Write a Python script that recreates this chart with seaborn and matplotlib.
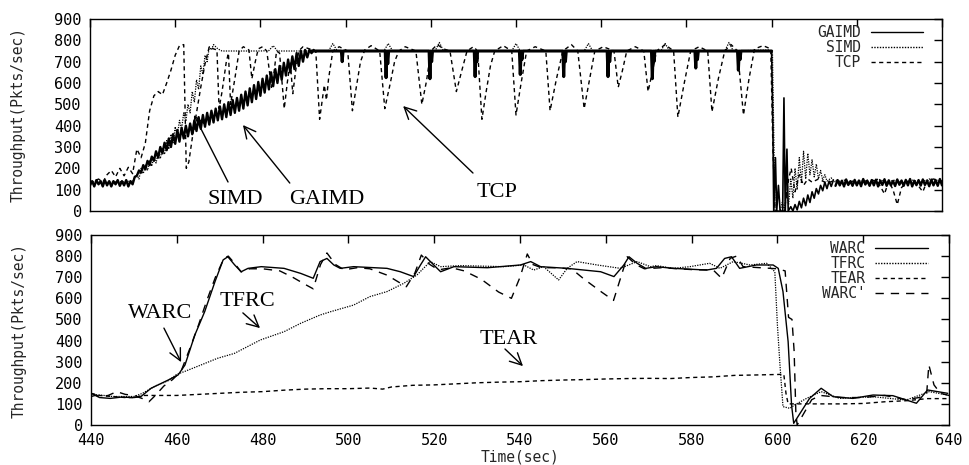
import numpy as np
import pandas as pd
import matplotlib
matplotlib.use("Agg")
import matplotlib.pyplot as plt
import seaborn as sns

# ---- top panel: GAIMD / SIMD / TCP (time in sec, throughput in pkts/sec) ----
# GAIMD oscillating band, one low/high pair per second from 440 to 492
gaimd_lo = [120, 115, 125, 115, 120, 115, 125, 118, 120, 115,
            125, 165, 180, 195, 215, 235, 250, 270, 285, 300,
            315, 325, 340, 350, 360, 375, 385, 395, 405, 415,
            425, 430, 440, 450, 460, 470, 480, 495, 510, 525,
            540, 555, 570, 585, 600, 615, 635, 650, 665, 680,
            700, 720, 740]
gaimd_hi = [140, 145, 140, 145, 140, 140, 145, 140, 145, 140,
            160, 190, 215, 235, 255, 280, 300, 320, 340, 360,
            380, 390, 400, 410, 425, 440, 450, 460, 470, 480,
            490, 500, 510, 520, 530, 545, 560, 575, 590, 605,
            620, 635, 650, 665, 680, 695, 710, 725, 740, 750,
            755, 755, 755]
gaimd_flat = [(492, 750), (499, 750), (499.2, 700), (499.4, 750),
              (509.3, 750), (509.5, 625), (509.7, 750), (509.9, 690), (510.1, 750),
              (519.6, 750), (519.8, 620), (520, 750), (520.2, 700), (520.4, 750),
              (530.2, 750), (530.4, 630), (530.6, 750), (530.8, 700), (531, 750),
              (540.8, 750), (541, 640), (541.2, 750), (541.4, 710), (541.6, 750),
              (551, 750), (551.2, 630), (551.4, 750), (551.6, 700), (551.8, 750),
              (561.4, 750), (561.6, 630), (561.8, 750), (562, 700), (562.2, 750),
              (571.8, 750), (572, 620), (572.2, 750), (572.4, 700), (572.6, 750),
              (582, 750), (582.2, 670), (582.4, 750), (582.6, 710), (582.8, 750),
              (592, 750), (592.2, 660), (592.4, 750), (592.6, 710), (592.8, 750),
              (600, 750)]
gaimd_drop = [(600, 750), (600.3, 400), (600.5, 0), (600.9, 250), (601.2, 0),
              (601.6, 120), (602, 0), (602.6, 0), (602.9, 530), (603.2, 0),
              (603.6, 290), (603.9, 0), (604.5, 20), (605, 0), (605.5, 30),
              (606, 5), (606.5, 45), (607, 15), (607.5, 60), (608, 25),
              (608.5, 75), (609, 40), (609.5, 90), (610, 60), (610.5, 105),
              (611, 80), (611.5, 120), (612, 95), (612.5, 135), (613, 105),
              (613.5, 140), (614, 115), (614.5, 145)]
# GAIMD band after recovery, one low/high pair per second from 615 to 640
gaimd_tail_lo = [118, 120, 115, 122, 118, 120, 116, 124, 118, 120, 115, 122, 118,
                 120, 117, 123, 118, 120, 115, 121, 119, 122, 116, 120, 118, 120]
gaimd_tail_hi = [145, 142, 148, 140, 146, 143, 150, 141, 145, 147, 142, 149, 144,
                 141, 148, 143, 146, 150, 142, 145, 148, 141, 147, 144, 150, 143]

simd = [(440, 130), (445, 135), (450, 140), (451, 170), (451.5, 150), (452, 200),
        (452.5, 175), (453, 215), (453.5, 190), (454, 235), (454.5, 210), (455, 255),
        (455.5, 225), (456, 270), (456.5, 245), (457, 295), (457.5, 265), (458, 330),
        (458.5, 290), (459, 360), (459.5, 320), (460, 395), (460.5, 350), (461, 425),
        (461.5, 385), (462, 460), (462.5, 420), (463, 500), (463.5, 460), (464, 560),
        (464.5, 510), (465, 615), (465.5, 570), (466, 680), (466.5, 640), (467, 730),
        (467.5, 700), (468, 770), (468.5, 755), (469, 780), (470, 760), (471, 750),
        (480, 750), (482, 752), (483, 775), (484, 750), (496, 750), (497, 785),
        (498, 752), (499, 750), (509, 750), (510, 785), (511, 752), (521, 750),
        (522, 790), (523, 750), (539, 750), (540, 785), (541, 750), (556, 750),
        (557, 785), (558, 750), (574, 750), (575, 785), (576, 752), (589, 750),
        (590, 790), (591, 750), (599.5, 755), (600.2, 740), (600.8, 0), (602, 0),
        (602.5, 40), (603, 10), (603.5, 90), (604, 30), (604.5, 150), (605, 60),
        (605.5, 200), (606, 100), (606.5, 250), (607, 130), (607.5, 280), (608, 150),
        (608.5, 270), (609, 170), (609.5, 240), (610, 160), (610.5, 220), (611, 150),
        (611.5, 190), (612, 145), (612.5, 170), (613, 140), (614, 155), (615, 135),
        (617, 145), (619, 130), (621, 140), (623, 130), (625, 150), (627, 135),
        (629, 145), (631, 130), (633, 145), (635, 135), (637, 150), (640, 140)]

tcp = [(440, 130), (441, 140), (442, 150), (443, 135), (444, 170), (445, 190),
       (446, 160), (447, 200), (448, 165), (449, 205), (450, 175), (451, 290),
       (452, 250), (453, 320), (454, 470), (455, 540), (456, 560), (457, 545),
       (458, 600), (459, 660), (460, 730), (461, 775), (462, 780), (462.6, 200),
       (463.2, 230), (464, 340), (465, 460), (466, 580), (467, 690), (468, 770),
       (469, 760), (469.8, 755), (470.3, 480), (471, 560), (472, 700), (472.5, 740),
       (473, 500), (474, 620), (475, 750), (476, 770), (477.3, 755), (478, 620),
       (478.8, 700), (479.5, 760), (480.5, 770), (481.5, 750), (482.6, 580),
       (483.2, 650), (483.8, 750), (484.5, 740), (485.6, 480), (486.3, 600),
       (487, 700), (487.6, 550), (488.3, 660), (489, 750), (490, 770), (491.5, 760),
       (493, 750), (493.9, 430), (495, 590), (495.5, 520), (496, 620), (497, 750),
       (498.5, 770), (500.5, 750), (501.6, 470), (502.5, 580), (503.5, 700),
       (504.5, 755), (506, 775), (508, 750), (509.2, 480), (510.5, 600), (511.5, 700),
       (512.5, 750), (514, 770), (516.5, 750), (517.9, 500), (519, 610), (520, 750),
       (521.5, 780), (523, 760), (524.5, 750), (526, 560), (527.3, 660), (528.5, 750),
       (530, 770), (531, 750), (532, 430), (533, 560), (534, 680), (535, 750),
       (537, 775), (539, 750), (540, 450), (541.2, 600), (542.5, 750), (544.5, 770),
       (547, 750), (548, 470), (549.5, 620), (551, 750), (553, 780), (554.5, 750),
       (556, 480), (557.3, 620), (558.5, 750), (560.5, 770), (563, 750), (564, 580),
       (565, 660), (566, 750), (568, 770), (570, 750), (571, 560), (572, 650),
       (573, 750), (575, 780), (577, 750), (578, 440), (579.5, 600), (581, 750),
       (583, 770), (585, 750), (586, 465), (587.5, 620), (589, 750), (590.5, 780),
       (592, 750), (593.4, 450), (594.7, 620), (596, 760), (598, 775), (599.8, 760),
       (600.3, 300), (600.8, 0), (603, 0), (604, 150), (604.6, 200), (605.5, 90),
       (606.5, 170), (607.5, 120), (608.5, 150), (609.5, 135), (611, 150), (613, 130),
       (615, 145), (617, 125), (619, 140), (621, 130), (623, 150), (625, 135),
       (626.5, 80), (627.5, 140), (628.5, 100), (629.5, 30), (630.5, 110), (632, 140),
       (634, 130), (635.5, 90), (636.5, 140), (638, 150), (640, 140)]

# ---- bottom panel: WARC / TFRC / TEAR / WARC' ----
warc = [(440, 135), (441, 140), (442, 130), (444.5, 126), (447, 132), (450, 130),
        (451.6, 134), (454, 174), (458, 213), (460.3, 237), (461.9, 284), (464.2, 426),
        (466.5, 537), (468.9, 679), (470.8, 782), (471.9, 797), (473.5, 758),
        (475, 726), (476.6, 742), (479.7, 750), (485, 742), (488.9, 718), (491.8, 695),
        (493.4, 774), (495, 789), (496.6, 758), (498.1, 742), (501.2, 750), (509, 742),
        (512.1, 726), (515.2, 703), (516.8, 758), (518, 797), (519.9, 758),
        (521.5, 726), (524.6, 750), (532.4, 745), (540.1, 758), (542.5, 774),
        (544.8, 750), (551, 742), (558.8, 726), (561.9, 703), (564.2, 758),
        (565.4, 797), (567.3, 766), (569.3, 742), (571.8, 750), (575.7, 742),
        (583.5, 734), (585.8, 742), (587.7, 789), (589.3, 797), (591.2, 742),
        (595.1, 758), (599, 758), (600.2, 742), (601.3, 632), (602.5, 395),
        (603.3, 95), (603.8, 8), (607.5, 126), (610.2, 174), (613, 134), (617.6, 126),
        (622.3, 142), (626.9, 139), (632.4, 103), (635, 166), (639.7, 150)]

tfrc = [(440, 145), (443, 140), (445, 135), (450, 135), (452, 150), (455, 185),
        (458, 210), (460, 240), (462, 255), (465.6, 284), (469.5, 316), (473.4, 339),
        (479.5, 403), (485, 442), (488.9, 482), (493.4, 521), (495.9, 537),
        (501.2, 568), (505, 608), (509, 632), (512.9, 671), (516, 711), (517.5, 742),
        (519.1, 774), (521.5, 750), (526.1, 755), (536.2, 750), (540.9, 758),
        (543.2, 734), (545.5, 750), (549, 687), (551, 742), (553.3, 774), (558, 758),
        (563.4, 742), (567.3, 774), (570.4, 750), (571.8, 755), (575.7, 742),
        (579.6, 750), (584.2, 766), (586.6, 742), (589.7, 774), (593.6, 758),
        (597.5, 766), (599.4, 726), (600, 474), (600.6, 284), (601.3, 87),
        (602.9, 79), (604, 95), (606.8, 126), (610.2, 158), (614.5, 126),
        (622.3, 134), (630, 118), (635.4, 158), (639.7, 142)]

tear = [(440, 150), (442, 140), (445, 135), (448, 130), (450, 130), (452, 140),
        (455, 140), (460, 140), (465, 145), (470, 150), (475, 155), (480, 158),
        (485, 165), (490, 170), (495, 172), (500, 172), (505, 175), (508, 170),
        (510, 180), (515, 188), (520, 190), (525, 195), (530, 200), (535, 203),
        (540, 205), (545, 210), (550, 213), (555, 215), (560, 218), (565, 220),
        (570, 221), (575, 220), (580, 225), (585, 228), (590, 235), (595, 237),
        (601.5, 240), (602, 150), (602.5, 100), (605, 100), (610, 100), (615, 100),
        (620, 102), (625, 110), (630, 115), (635, 125), (640, 125)]

warc_prime = [(440, 150), (442, 135), (444, 140), (446, 158), (448, 145), (450, 140),
              (452, 125), (453.5, 110), (455, 140), (457, 185), (459, 215), (461, 255),
              (463, 360), (465, 470), (467, 590), (469, 700), (471, 790), (472, 800),
              (473.5, 765), (475, 725), (477, 740), (480, 740), (484, 730), (487, 700),
              (490, 665), (491.8, 645), (493.5, 760), (495, 815), (497, 760), (499, 735),
              (502, 745), (505, 740), (509, 710), (513.5, 655), (515.5, 720), (517, 805),
              (519, 760), (521, 735), (524, 745), (527, 730), (531, 690), (535, 630),
              (538, 600), (540, 700), (541.7, 810), (543, 760), (545, 745), (548, 745),
              (552, 740), (555, 690), (559, 630), (561.8, 590), (563.5, 700), (565, 797),
              (567, 760), (569, 740), (573, 745), (577, 740), (581, 735), (585, 735),
              (587, 695), (589, 790), (590.5, 800), (592, 750), (596, 745), (600, 740),
              (601.8, 730), (602.6, 510), (603.4, 500), (603.9, 350), (604.3, 60),
              (604.6, 0), (608, 120), (610, 140), (615, 130), (620, 130), (625, 140),
              (630, 120), (633, 130), (634.8, 150), (635.3, 285), (636.5, 190),
              (638, 150), (640, 140)]


def band(start, lo, hi):
    # interleave low/high samples half a second apart -> dense oscillation
    pts = []
    for i, (a, b) in enumerate(zip(lo, hi)):
        pts.append((start + i, a))
        pts.append((start + i + 0.5, b))
    return pts


def frame(pts):
    return pd.DataFrame(pts, columns=["time", "tput"])


def draw(ax, pts, **kw):
    sns.lineplot(data=frame(pts), x="time", y="tput", ax=ax, sort=False,
                 estimator=None, legend=False, color="black", **kw)


sns.set_theme(style="white")
plt.rcParams["font.family"] = ["DejaVu Sans Mono", "DejaVu Sans"]
MONO = "DejaVu Sans Mono"
SERIF = "Liberation Serif"

fig = plt.figure(figsize=(9.7, 4.65), dpi=100)
ax1 = fig.add_axes([90 / 970, 1 - 211 / 465, 852 / 970, 192 / 465])
ax2 = fig.add_axes([91 / 970, 1 - 425 / 465, 858 / 970, 190 / 465])

dotted = (0, (1, 1))
short_dash = (0, (3, 2.5))
long_dash = (0, (6, 5))

# top panel
draw(ax1, tcp, lw=1.0, linestyle=short_dash, label="TCP")
draw(ax1, simd, lw=0.9, linestyle=dotted, label="SIMD")
draw(ax1, band(440, gaimd_lo, gaimd_hi), lw=1.7, label="GAIMD")
draw(ax1, gaimd_flat, lw=2.2)
draw(ax1, gaimd_drop, lw=1.2)
draw(ax1, band(615, gaimd_tail_lo, gaimd_tail_hi), lw=1.7)

# bottom panel
draw(ax2, tear, lw=1.0, linestyle=short_dash, label="TEAR")
draw(ax2, tfrc, lw=0.9, linestyle=dotted, label="TFRC")
draw(ax2, warc_prime, lw=1.0, linestyle=long_dash, label="WARC'")
draw(ax2, warc, lw=1.0, label="WARC")

for ax in (ax1, ax2):
    ax.set_xlim(440, 640)
    ax.set_ylim(0, 900)
    ax.set_xticks(np.arange(440, 641, 20))
    ax.set_yticks(np.arange(0, 901, 100))
    ax.tick_params(direction="in", top=True, right=True, length=6, width=1,
                   labelsize=11, pad=6, colors="black")
    for lab in ax.get_xticklabels() + ax.get_yticklabels():
        lab.set_fontfamily(MONO)
    for s in ax.spines.values():
        s.set_color("black")
        s.set_linewidth(1)
    ax.set_ylabel("Throughput(Pkts/sec)", fontsize=10.5, family=MONO)
    ax.yaxis.set_label_coords(-0.075, 0.5)
    ax.set_xlabel("")

ax1.tick_params(labelbottom=False)
ax2.set_xlabel("Time(sec)", fontsize=10.5, family=MONO, labelpad=1)


def legend(ax, order, anchor):
    handles, labels = ax.get_legend_handles_labels()
    lookup = dict(zip(labels, handles))
    leg = ax.legend([lookup[k] for k in order], order, loc="upper right",
                    bbox_to_anchor=anchor, frameon=False, markerfirst=False,
                    handlelength=3.6, handletextpad=0.7, labelspacing=0.0,
                    borderpad=0, borderaxespad=0,
                    prop={"family": MONO, "size": 10.5})
    for line in leg.get_lines():
        line.set_linewidth(1.0)


legend(ax1, ["GAIMD", "SIMD", "TCP"], (0.978, 0.97))
legend(ax2, ["WARC", "TFRC", "TEAR", "WARC'"], (0.9755, 0.97))

# annotations: label text plus open arrow
arrow = dict(arrowstyle="->,head_length=0.7,head_width=0.35", color="black",
             lw=1.0, shrinkA=0, shrinkB=0, mutation_scale=12)
notes_top = [("SIMD", (474.0, 56), (472.4, 136), (464.4, 450)),
             ("GAIMD", (495.6, 56), (486.9, 131), (475.9, 403)),
             ("TCP", (535.5, 89), (529.9, 178), (513.5, 492))]
notes_bottom = [("WARC", (456.1, 526), (457.0, 459), (461.0, 298)),
                ("TFRC", (476.4, 587), (475.4, 531), (479.4, 459)),
                ("TEAR", (537.4, 407), (536.5, 360), (540.7, 279))]
for ax, notes in ((ax1, notes_top), (ax2, notes_bottom)):
    for txt, pos, tail, head in notes:
        ax.text(pos[0], pos[1], txt, family=SERIF, fontsize=16,
                ha="center", va="center", color="black")
        ax.annotate("", xy=head, xytext=tail, arrowprops=arrow)

fig.savefig("out.png", dpi=100, facecolor="white")
